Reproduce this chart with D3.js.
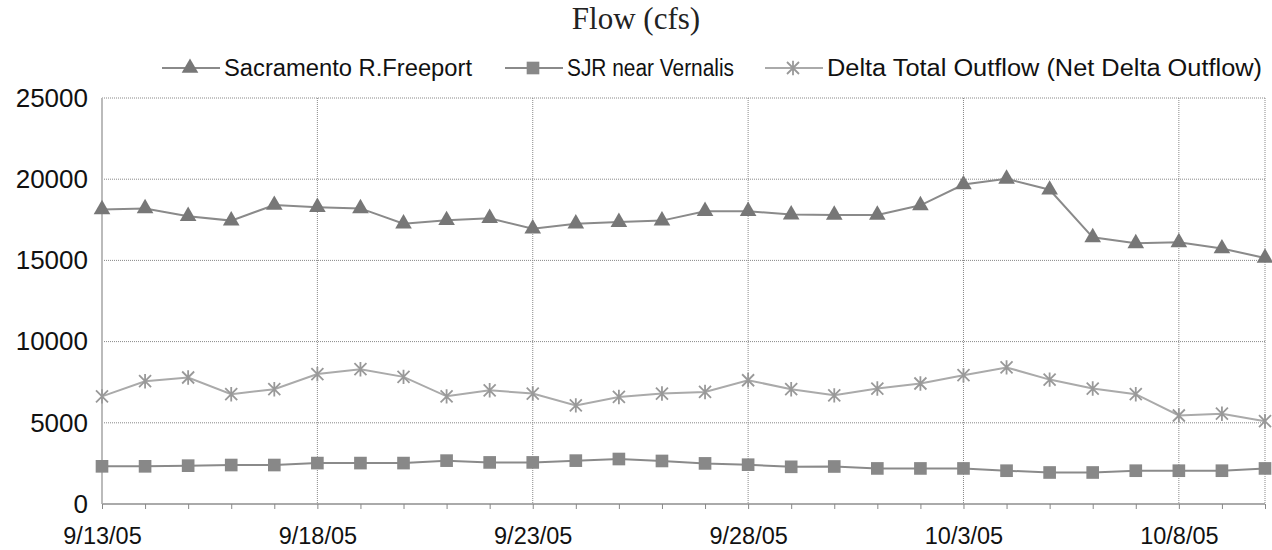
<!DOCTYPE html>
<html><head><meta charset="utf-8">
<script src="https://cdn.jsdelivr.net/npm/d3@7"></script>
<style>body{margin:0;background:#fff}svg{display:block}</style>
</head><body><svg id="c" width="1272" height="550"></svg>
<script>
const dates = ["9/13/05","9/14/05","9/15/05","9/16/05","9/17/05","9/18/05","9/19/05","9/20/05","9/21/05","9/22/05","9/23/05","9/24/05","9/25/05","9/26/05","9/27/05","9/28/05","9/29/05","9/30/05","10/1/05","10/2/05","10/3/05","10/4/05","10/5/05","10/6/05","10/7/05","10/8/05","10/9/05","10/10/05"];
const sacramento = [18140,18200,17720,17450,18410,18280,18200,17260,17470,17600,16950,17260,17360,17450,18030,18030,17820,17800,17800,18390,19670,20020,19350,16420,16050,16110,15730,15150];
const sjr = [2320,2320,2360,2400,2400,2520,2520,2520,2670,2560,2560,2670,2770,2650,2500,2420,2290,2310,2190,2190,2190,2050,1940,1940,2050,2050,2050,2190];
const delta = [6630,7560,7790,6760,7070,8000,8300,7830,6630,7000,6800,6070,6590,6800,6900,7620,7070,6690,7110,7420,7930,8410,7660,7110,6760,5450,5560,5100];
const yTicks = [0,5000,10000,15000,20000,25000];
const xLabels = ["9/13/05","9/18/05","9/23/05","9/28/05","10/3/05","10/8/05"];
const seriesNames = ["Sacramento R.Freeport","SJR near Vernalis","Delta Total Outflow (Net Delta Outflow)"];
const title = "Flow (cfs)";

const svg = d3.select("#c");
const L = 102, R = 1265, T = 98, B = 504;
const x = d3.scalePoint().domain(dates).range([L, R]);
const y = d3.scaleLinear().domain([0, 25000]).range([B, T]);
const font = "Arial, 'Liberation Sans', sans-serif";

// gridlines
const g = svg.append("g");
g.selectAll("line.h").data(yTicks.filter(d => d > 0)).join("line")
  .attr("x1", L).attr("x2", R).attr("y1", d => y(d)).attr("y2", d => y(d))
  .attr("stroke", "#888").attr("stroke-width", 1).attr("stroke-dasharray", "1,1");
g.selectAll("line.v").data(xLabels.slice(1).concat([dates[dates.length-1]])).join("line")
  .attr("x1", d => x(d)).attr("x2", d => x(d)).attr("y1", T).attr("y2", B)
  .attr("stroke", "#888").attr("stroke-width", 1).attr("stroke-dasharray", "1,1");

// y axis
const yAxis = svg.append("g").attr("transform", `translate(${L},0)`)
  .call(d3.axisLeft(y).tickValues(yTicks).tickSize(0).tickPadding(14).tickFormat(d3.format("d")));
yAxis.select(".domain").attr("stroke", "#bbb").attr("stroke-width", 2).attr("d", `M0,${T}V${B}`);
yAxis.selectAll("text").attr("font-family", font).attr("font-size", 26).attr("fill", "#111");

// x axis
const xAxis = svg.append("g").attr("transform", `translate(0,${B})`)
  .call(d3.axisBottom(x).tickSize(5).tickPadding(18).tickFormat(d => xLabels.includes(d) ? d : ""));
xAxis.select(".domain").attr("stroke", "#aaa").attr("stroke-width", 2).attr("d", `M${L},0H${R}`);
xAxis.selectAll(".tick line").attr("stroke", "#888");
xAxis.selectAll("text").attr("font-family", font).attr("font-size", 23.5).attr("fill", "#111");

// markers
const tri = d3.symbol().type(d3.symbolTriangle).size(120);
const sq = d3.symbol().type(d3.symbolSquare).size(160);
function star(sel, s) {
  sel.append("path").attr("d", `M${-s},${-s}L${s},${s}M${-s},${s}L${s},${-s}M0,${-s*1.2}V${s*1.2}`)
    .attr("stroke", "#999").attr("stroke-width", 1.8).attr("fill", "none");
}
const line = d3.line().x((d, i) => x(dates[i])).y(d => y(d));

const series = [
  {vals: sacramento, color: "#8a8a8a", kind: "tri"},
  {vals: sjr, color: "#8a8a8a", kind: "sq"},
  {vals: delta, color: "#aaa", kind: "star"}
];
series.forEach(s => {
  svg.append("path").datum(s.vals).attr("d", line).attr("fill", "none")
    .attr("stroke", s.color).attr("stroke-width", 2);
  const m = svg.append("g").selectAll("g").data(s.vals).join("g")
    .attr("transform", (d, i) => `translate(${x(dates[i])},${y(d)})`);
  if (s.kind === "tri") m.append("path").attr("d", tri).attr("fill", "#777");
  else if (s.kind === "sq") m.append("path").attr("d", sq).attr("fill", "#888");
  else m.call(star, 6);
});

// title
svg.append("text").attr("x", 636).attr("y", 29).attr("text-anchor", "middle")
  .attr("font-family", "'Times New Roman', 'Liberation Serif', serif").attr("font-size", 31)
  .attr("fill", "#222").text(title);

// legend
const legX = [162, 505, 765];
const legW = [248, 167, 435];
const legY = 68;
series.forEach((s, i) => {
  const lg = svg.append("g").attr("transform", `translate(${legX[i]},${legY})`);
  lg.append("line").attr("x1", 0).attr("x2", 58).attr("y1", 0).attr("y2", 0)
    .attr("stroke", s.color).attr("stroke-width", 2);
  const mk = lg.append("g").attr("transform", "translate(28,0)");
  if (s.kind === "tri") mk.append("path").attr("d", tri).attr("fill", "#777");
  else if (s.kind === "sq") mk.append("path").attr("d", sq).attr("fill", "#888");
  else mk.call(star, 6);
  lg.append("text").attr("x", 62).attr("y", 8).attr("font-family", font).attr("font-size", 23)
    .attr("textLength", legW[i]).attr("lengthAdjust", "spacingAndGlyphs")
    .attr("fill", "#111").text(seriesNames[i]);
});
</script></body></html>
